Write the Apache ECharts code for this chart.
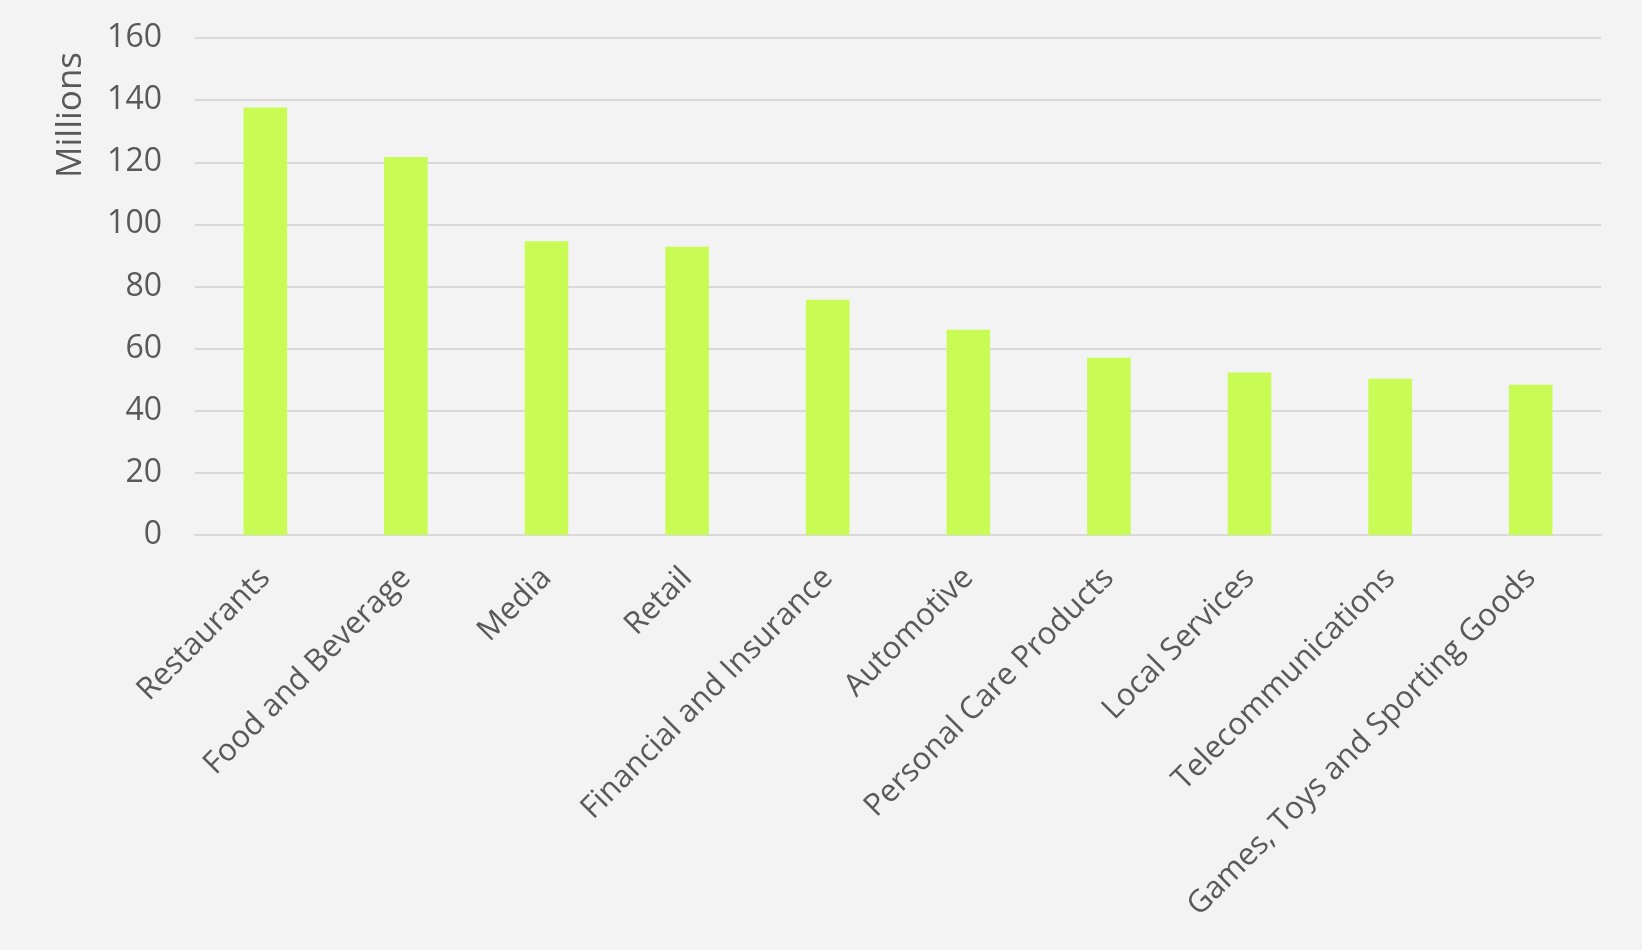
<!DOCTYPE html>
<html><head><meta charset="utf-8">
<script src="https://cdn.jsdelivr.net/npm/echarts@6/dist/echarts.min.js"></script>
<style>html,body{margin:0;padding:0;background:#f3f3f3;}#c{width:1642px;height:950px;}</style>
</head><body><div id="c"></div>
<script>
const categories = ["Restaurants","Food and Beverage","Media","Retail","Financial and Insurance","Automotive","Personal Care Products","Local Services","Telecommunications","Games, Toys and Sporting Goods"];
const values = [137.6, 121.7, 94.6, 92.8, 75.7, 66.1, 57.1, 52.3, 50.3, 48.4];
const yTicks = {min: 0, max: 160, interval: 20};
const yName = "Millions";

const chart = echarts.init(document.getElementById('c'));
const font = '"Open Sans", sans-serif';
chart.setOption({
  backgroundColor: '#f3f3f3',
  animation: false,
  grid: {left: 195, right: 41, top: 38, bottom: 415},
  graphic: [{
    type: 'text', rotation: Math.PI/2, x: 54, y: 178,
    style: {text: yName, fontSize: 35, fontFamily: font, fill: '#595959', textAlign: 'left', textVerticalAlign: 'top'}
  }],
  xAxis: {
    type: 'category', data: categories,
    axisTick: {show: false},
    axisLine: {lineStyle: {color: '#d9d9d9', width: 2}},
    axisLabel: {rotate: 45, interval: 0, margin: 38, fontSize: 31, fontFamily: font, color: '#595959'}
  },
  yAxis: {
    type: 'value', min: yTicks.min, max: yTicks.max, interval: yTicks.interval,
    axisLine: {show: false}, axisTick: {show: false},
    splitLine: {lineStyle: {color: '#d9d9d9', width: 2}},
    axisLabel: {margin: 33, fontSize: 32, fontFamily: font, color: '#595959'}
  },
  series: [{
    type: 'bar', data: values, barWidth: '31%',
    itemStyle: {color: '#c8fc55'}
  }]
});
</script></body></html>
